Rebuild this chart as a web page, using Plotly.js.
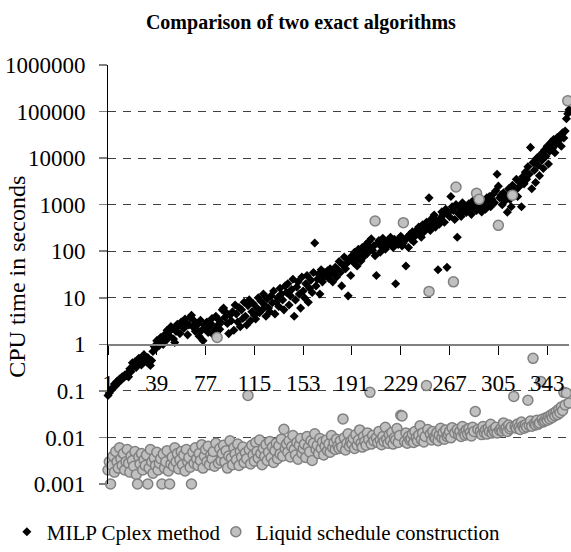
<!DOCTYPE html>
<html>
<head>
<meta charset="utf-8">
<script src="https://cdn.plot.ly/plotly-3.0.1.min.js"></script>
<style>html,body{margin:0;padding:0;background:#fff;}#chart{width:571px;height:552px;}</style>
</head>
<body>
<div id="chart"></div>
<script>
// Instance numbers 1..360 (category axis)
const instanceCount = 360;
const xTickLabels = ["1","39","77","115","153","191","229","267","305","343"];
const yTickLabels = ["0.001","0.01","0.1","1","10","100","1000","10000","100000","1000000"];

// MILP Cplex method, CPU time in seconds
const milpCplex = [
0.08,0.09,0.1,0.11,0.12,0.14,0.13,0.16,0.15,0.18,
0.17,0.2,0.19,0.22,0.21,0.24,0.2,0.3,0.26,0.4,
0.35,0.42,0.32,0.38,0.5,0.45,0.36,0.55,0.6,0.48,
0.42,0.52,0.38,0.35,0.45,0.7,0.9,0.8,1.2,1.1,
0.95,1.4,1.3,1.0,1.6,1.2,2.0,1.8,1.5,2.4,
2.2,1.3,1.1,1.9,2.7,2.5,1.7,3.0,2.8,2.2,
3.5,2.9,1.6,2.6,3.8,4.2,2.4,3.2,1.9,2.1,
2.7,1.5,3.3,2.0,1.2,2.6,2.2,3.0,1.8,2.4,
2.8,3.6,1.6,2.0,4.0,2.5,3.4,2.1,2.9,5.5,
6.0,3.8,4.8,2.8,1.7,4.2,3.2,5.0,2.0,7.0,
4.5,3.0,6.2,2.4,5.5,3.6,8.0,4.0,2.6,6.8,
9.0,3.2,5.0,7.5,4.2,3.5,6.0,10.0,4.8,8.5,
5.5,12.0,7.0,4.0,9.5,6.0,5.0,11.0,7.8,14.0,
4.5,8.0,10.0,6.5,16.0,12.0,9.0,5.5,18.0,13.0,
20.0,7.0,11.0,15.0,25.0,4.0,9.0,17.0,22.0,12.0,
6.0,28.0,14.0,10.0,20.0,30.0,8.0,16.0,24.0,13.0,
35.0,150.0,18.0,25.0,32.0,12.0,40.0,22.0,28.0,35.0,
30.0,38.0,26.0,42.0,33.0,22.0,36.0,45.0,28.0,40.0,
60.0,35.0,18.0,50.0,75.0,42.0,55.0,11.0,65.0,30.0,
80.0,58.0,95.0,70.0,48.0,110.0,85.0,62.0,120.0,75.0,
100,140,90,160,120,185,105,130,80,30,
150,170,95,125,190,140,110,160,135,170,
200,150,120,180,20,160,140,190,210,130,
150,170,48,200,120,230,180,260,160,210,
280,240,330,300,200,370,260,300,420,350,
1400,280,500,390,600,330,450,40,380,520,
700,600,420,800,45,680,550,1500,900,750,
480,1000,200,640,850,560,1100,720,950,680,
800,1050,900,620,1200,850,1000,750,1300,900,
1100,700,950,1000,800,1400,1200,1500,900,1300,
1700,1100,2000,4500,2500,1400,1600,1000,1800,1200,
1500,690,2200,1300,900,2600,1700,2000,3500,1500,
2400,3000,900,4000,2800,5000,3500,6500,4500,17000,
2200,8000,5500,3000,10000,7000,4200,12000,9000,6000,
15000,11000,18000,7500,14000,22000,16000,25000,13000,20000,
28000,24000,30000,18000,35000,27000,38000,70000,90000,110000
];

// Liquid schedule construction, CPU time in seconds
const liquidSchedule = [
0.002,0.003,0.001,0.0025,0.004,0.0018,0.005,0.003,0.0022,0.006,
0.0035,0.0025,0.0045,0.002,0.003,0.0055,0.0028,0.0018,0.004,0.0032,
0.0024,0.005,0.0016,0.001,0.0038,0.0027,0.0045,0.002,0.0033,0.0025,
0.0042,0.001,0.0022,0.0055,0.003,0.0017,0.0036,0.0025,0.0048,0.002,
0.0028,0.0035,0.001,0.0044,0.0022,0.003,0.0052,0.0019,0.001,0.0027,
0.0038,0.0024,0.006,0.003,0.0045,0.0021,0.0033,0.005,0.0026,0.0042,
0.0019,0.0055,0.003,0.0037,0.0023,0.001,0.0048,0.0028,0.006,0.0035,
0.0025,0.0045,0.0032,0.007,0.0022,0.004,0.0055,0.003,0.0065,0.0026,
0.0042,0.0035,0.005,0.0024,0.0075,1.4,0.0028,0.0058,0.0032,0.0045,
0.0068,0.003,0.0052,0.0022,0.004,0.0085,0.0036,0.0026,0.006,0.0044,
0.0033,0.0072,0.0025,0.005,0.0038,0.0062,0.0029,0.0047,0.0035,0.08,
0.0055,0.0027,0.0068,0.0042,0.0031,0.0078,0.005,0.0036,0.0088,0.0045,
0.0026,0.0058,0.0039,0.007,0.0032,0.0048,0.0082,0.0037,0.0062,0.0029,
0.0052,0.0075,0.0035,0.0066,0.0044,0.0092,0.004,0.015,0.0058,0.0072,
0.0048,0.0085,0.0038,0.0064,0.011,0.0055,0.0042,0.0078,0.0034,0.0068,
0.0095,0.0046,0.0058,0.0072,0.0037,0.0105,0.0062,0.0049,0.0085,0.0032,
0.0075,0.012,0.0055,0.0068,0.0045,0.0095,0.0058,0.008,0.0042,0.0065,
0.0088,0.0052,0.0072,0.0048,0.011,0.006,0.0078,0.0055,0.0092,0.0066,
0.0058,0.0085,0.0062,0.025,0.0098,0.0054,0.0075,0.012,0.0065,0.0082,
0.0072,0.0095,0.0058,0.0115,0.0068,0.0088,0.0145,0.0075,0.0062,0.0105,
0.0082,0.0068,0.0125,0.009,0.093,0.0072,0.011,0.0085,445,0.0098,
0.0078,0.0135,0.0088,0.007,0.0105,0.0082,0.0165,0.0092,0.0075,0.0115,
0.0085,0.0128,0.0072,0.0098,0.0088,0.0155,0.0078,0.011,0.03,0.029,
410,0.0082,0.0125,0.0075,0.0105,0.0088,0.0095,0.0118,0.0078,0.0135,
0.0098,0.0085,0.0112,0.0178,0.009,0.0125,0.008,0.0105,0.13,0.0148,
13.7,0.0118,0.0088,0.0135,0.0102,0.0095,0.0125,0.0085,0.0112,0.0158,
0.0098,0.0128,0.0092,0.0145,0.0105,0.0115,0.0135,0.0098,0.0162,22,
0.0125,2400,0.0148,0.0115,0.0135,0.0105,0.0172,0.0125,0.0112,0.0145,
0.0118,0.0155,0.0128,0.0108,0.0165,0.0135,0.036,1750,0.0148,1300,
0.0138,0.0115,0.0172,0.0128,0.0145,0.0118,0.0158,0.0135,0.0192,0.0125,
0.0148,0.0132,0.0165,0.0125,360,0.0142,0.0155,0.0138,0.0205,0.0148,
0.0162,0.0135,0.0185,0.0152,0.0168,1600,0.076,0.0172,0.0158,0.0195,
0.0165,0.0148,0.0215,0.0175,0.0158,0.0188,0.0168,0.063,0.0182,0.0225,
0.0175,0.5,0.0198,0.0185,0.0235,0.0192,0.0205,0.16,0.0245,0.0215,
0.0228,0.0265,0.0235,0.028,0.025,0.0305,0.0268,0.033,0.0292,0.036,
0.031,0.04,0.034,0.045,0.038,0.093,0.05,0.09,170000,0.055
];

const instances = [];
for (let i = 1; i <= instanceCount; i++) instances.push(i);
const xTickVals = xTickLabels.map(Number);
const yTickVals = yTickLabels.map(Number);

const FONT = "Liberation Serif";

const traces = [
  {
    type: "scatter", mode: "markers", name: "MILP Cplex method",
    x: instances, y: milpCplex, cliponaxis: false, legend: "legend",
    marker: {symbol: "diamond", size: 7, color: "#000000"}
  },
  {
    type: "scatter", mode: "markers", name: "Liquid schedule construction",
    x: instances, y: liquidSchedule, cliponaxis: false, legend: "legend2",
    marker: {symbol: "circle", size: 10, color: "#c0c0c0", line: {color: "#808080", width: 1.5}}
  }
];

const legendFont = {family: FONT, size: 21, color: "#000000"};

const layout = {
  width: 571, height: 552,
  paper_bgcolor: "#ffffff", plot_bgcolor: "#ffffff",
  margin: {l: 108, r: 2, t: 65, b: 68, autoexpand: false},
  font: {family: FONT, size: 23, color: "#000000"},
  title: {
    text: "<b>Comparison of two exact algorithms</b>",
    font: {family: FONT, size: 20, color: "#000000"},
    x: 0.527, xanchor: "center", xref: "container",
    y: 0.96, yanchor: "middle", yref: "container"
  },
  showlegend: true,
  legend: {
    orientation: "h", xref: "container", x: 0.012, xanchor: "left",
    yref: "container", y: 0.036, yanchor: "middle",
    font: legendFont, itemwidth: 30, bgcolor: "rgba(0,0,0,0)"
  },
  legend2: {
    orientation: "h", xref: "container", x: 0.378, xanchor: "left",
    yref: "container", y: 0.036, yanchor: "middle",
    font: legendFont, itemwidth: 30, bgcolor: "rgba(0,0,0,0)"
  },
  xaxis: {
    type: "linear", range: [1, 360],
    anchor: "free", position: 1/3,
    showgrid: false, zeroline: false,
    showline: true, linecolor: "#808080", linewidth: 1.5,
    ticks: "outside", ticklen: 9, tickcolor: "#000000", tickwidth: 1,
    tickvals: xTickVals, ticktext: xTickLabels,
    ticklabelstandoff: 9,
    tickfont: {family: FONT, size: 23, color: "#000000"}
  },
  yaxis: {
    type: "log", range: [-3, 6],
    showgrid: true, gridcolor: "#404040", gridwidth: 1, griddash: "8px,7px",
    zeroline: false,
    showline: true, linecolor: "#000000", linewidth: 1,
    ticks: "outside", ticklen: 8, tickcolor: "#808080", tickwidth: 1.5,
    tickvals: yTickVals, ticktext: yTickLabels,
    ticklabelstandoff: 9,
    tickfont: {family: FONT, size: 23, color: "#000000"}
  },
  annotations: [{
    text: "CPU time in seconds", textangle: -90,
    xref: "paper", yref: "paper", x: -0.198, y: 0.494,
    xanchor: "center", yanchor: "middle", showarrow: false,
    font: {family: FONT, size: 24, color: "#000000"}
  }]
};

Plotly.newPlot("chart", traces, layout, {staticPlot: true, displayModeBar: false});
</script>
</body>
</html>
